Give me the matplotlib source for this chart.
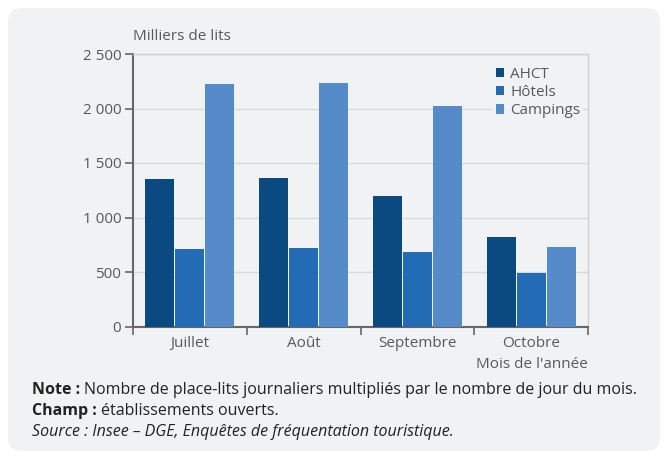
import matplotlib
matplotlib.use("Agg")
import matplotlib.pyplot as plt
import numpy as np
from matplotlib.patches import FancyBboxPatch
from matplotlib.ticker import FuncFormatter, FixedLocator

plt.rcParams['font.family'] = ['Open Sans', 'DejaVu Sans']

months = ["Juillet", "Août", "Septembre", "Octobre"]
series_names = ["AHCT", "Hôtels", "Campings"]
ahct = [1356, 1365, 1199, 821]
hotels = [710, 720, 683, 489]
campings = [2226, 2236, 2025, 729]
colors = ["#0b4a80", "#246bb5", "#568bc9"]
yticks = [0, 500, 1000, 1500, 2000, 2500]

W, H = 667, 457
bg = "#f1f2f4"
fs = 11
fsn = 11.5
fig = plt.figure(figsize=(W / 100, H / 100), dpi=100)
fig.patch.set_facecolor("white")

bax = fig.add_axes([0, 0, 1, 1], zorder=-10)
bax.set_xlim(0, W)
bax.set_ylim(H, 0)
bax.axis("off")
bax.add_patch(FancyBboxPatch((8, 8), 652, 443, boxstyle="round,pad=0,rounding_size=14",
                             facecolor=bg, edgecolor="none"))

ax = fig.add_axes([133 / W, 1 - 326.5 / H, (588 - 133) / W, (326.5 - 54) / H])
ax.set_facecolor(bg)

x = np.arange(len(months))
w = 0.255
gap = 0.008
for i, (vals, name) in enumerate(zip([ahct, hotels, campings], series_names)):
    ax.bar(x + (i - 1) * (w + gap), vals, width=w, color=colors[i], label=name, zorder=3)

ax.set_xlim(-0.5, len(months) - 0.5)
ax.set_ylim(0, 2500)
ax.set_yticks(yticks)
ax.yaxis.set_major_formatter(FuncFormatter(lambda v, p: f"{int(v):,}".replace(",", " ")))
ax.grid(axis="y", color="#d9dadc", linewidth=1, zorder=0)

ax.set_xticks(x)
ax.set_xticklabels(months)
ax.tick_params(axis="x", which="major", length=0, pad=6.5, labelsize=fs, labelcolor="#595959")
ax.xaxis.set_minor_locator(FixedLocator(np.arange(len(months) + 1) - 0.5))
ax.tick_params(axis="x", which="minor", length=5.5, width=1.2, color="#666666")
ax.tick_params(axis="y", length=5.5, width=1.2, color="#666666", labelsize=fs, labelcolor="#595959", pad=3)

for s in ["top", "right"]:
    ax.spines[s].set_color("#cfd0d2")
    ax.spines[s].set_linewidth(1)
for s in ["left", "bottom"]:
    ax.spines[s].set_color("#666666")
    ax.spines[s].set_linewidth(1.5)

leg = ax.legend(loc="upper right", bbox_to_anchor=(0.99, 0.965), frameon=True, fontsize=fs,
                handlelength=0.55, handleheight=0.55, handletextpad=0.4, labelspacing=0.22,
                borderpad=0.2, borderaxespad=0, facecolor=bg, edgecolor="none", framealpha=1,
                labelcolor="#595959")
leg.set_zorder(5)

fig.text(133 / W, 1 - 37 / H, "Milliers de lits", fontsize=fs, color="#595959", va="center", ha="left")
fig.text(588 / W, 1 - 365 / H, "Mois de l'année", fontsize=fs, color="#595959", va="center", ha="right")

tc = "#222222"
r = fig.canvas.get_renderer()
def two_part(y, bold, rest):
    t = fig.text(32 / W, 1 - y / H, bold, fontsize=fsn, fontweight="bold", color=tc, va="center")
    bb = t.get_window_extent(renderer=r)
    fig.text(bb.x1 / W + 4 / W, 1 - y / H, rest, fontsize=fsn, color=tc, va="center")

two_part(390, "Note :", "Nombre de place-lits journaliers multipliés par le nombre de jour du mois.")
two_part(411, "Champ :", "établissements ouverts.")
fig.text(32 / W, 1 - 432 / H, "Source : Insee – DGE, Enquêtes de fréquentation touristique.",
         fontsize=fsn, style="italic", color=tc, va="center")

fig.savefig("out.png", dpi=100, facecolor="white")
